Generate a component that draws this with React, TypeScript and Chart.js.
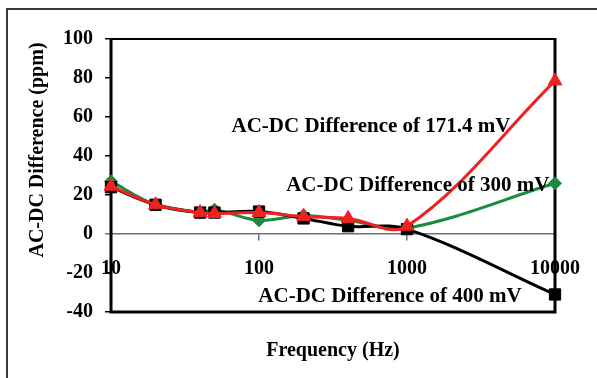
import React, { useEffect, useRef } from "react";
import { Chart, registerables } from "chart.js";

Chart.register(...registerables);

// ---- data ----
const frequencies = [10, 20, 40, 50, 100, 200, 400, 1000, 10000];
const diff171mV = [24.5, 15, 11, 10.5, 11, 9, 8, 4, 78.5];
const diff400mV = [24, 15, 11, 11, 11.5, 8, 4, 2.5, -31];
const diff300mV = [27, 15, 11, 12.5, 7, 9.5, 7, 3, 26];
const xTickValues = [10, 100, 1000, 10000];
const seriesNames = [
  "AC-DC Difference of 171.4 mV",
  "AC-DC Difference of 400 mV",
  "AC-DC Difference of 300 mV",
];
// label anchors in data coordinates (frequency, ppm) - text left/baseline
const labelFreqs = [65.2, 99.0, 152.7];
const labelValues = [52.3, -34.9, 22.0];
const xTitle = "Frequency (Hz)";
const yTitle = "AC-DC Difference (ppm)";

const FONT = "'Liberation Serif', 'Times New Roman', serif";
const RED = "#ee2222";
const GREEN = "#1b8a3c";
const BLACK = "#000000";

const toPoints = (ys: number[]) => frequencies.map((f, i) => ({ x: f, y: ys[i] }));

const decorPlugin = {
  id: "decor",
  beforeDraw(chart: any) {
    const { ctx } = chart;
    ctx.save();
    ctx.fillStyle = "#ffffff";
    ctx.fillRect(0, 0, chart.width, chart.height);
    ctx.strokeStyle = "#3a3a3a";
    ctx.lineWidth = 2;
    ctx.beginPath();
    ctx.moveTo(7, chart.height + 5);
    ctx.lineTo(7, 9);
    ctx.lineTo(chart.width + 5, 9);
    ctx.stroke();
    ctx.restore();
  },
  beforeDatasetsDraw(chart: any) {
    const { ctx, chartArea: a } = chart;
    ctx.save();
    ctx.strokeStyle = "#000";
    ctx.lineWidth = 2;
    ctx.beginPath();
    ctx.moveTo(a.left, a.top);
    ctx.lineTo(a.right, a.top);
    ctx.stroke();
    ctx.lineWidth = 3;
    ctx.beginPath();
    ctx.moveTo(a.left, a.top - 1);
    ctx.lineTo(a.left, a.bottom);
    ctx.lineTo(a.right, a.bottom);
    ctx.lineTo(a.right, a.top - 1);
    ctx.stroke();
    ctx.restore();
  },
  afterDatasetsDraw(chart: any) {
    const { ctx, chartArea: a, scales } = chart;
    ctx.save();
    ctx.fillStyle = "#000";
    ctx.font = `bold 21px ${FONT}`;
    ctx.textAlign = "left";
    ctx.textBaseline = "alphabetic";
    seriesNames.forEach((name, i) => {
      ctx.fillText(
        name,
        scales.x.getPixelForValue(labelFreqs[i]),
        scales.y.getPixelForValue(labelValues[i])
      );
    });
    ctx.font = `bold 20px ${FONT}`;
    ctx.textAlign = "center";
    ctx.fillText(xTitle, (a.left + a.right) / 2, 356);
    ctx.translate(38, 150);
    ctx.rotate(-Math.PI / 2);
    ctx.textBaseline = "middle";
    ctx.fillText(yTitle, 0, 0);
    ctx.restore();
  },
};

export default function App() {
  const ref = useRef<HTMLCanvasElement | null>(null);
  useEffect(() => {
    document.body.style.margin = "0";
    if (!ref.current) return;
    const tickFont = { family: FONT, size: 20, weight: "bold" as const };
    const common = {
      borderWidth: 3,
      pointBorderWidth: 1,
      tension: 0.35,
      clip: false as any,
    };
    const chart = new Chart(ref.current, {
      type: "line",
      data: {
        datasets: [
          {
            ...common,
            label: seriesNames[0],
            data: toPoints(diff171mV),
            borderColor: RED,
            backgroundColor: RED,
            pointBorderColor: RED,
            pointStyle: "triangle",
            pointRadius: 8,
          },
          {
            ...common,
            label: seriesNames[1],
            data: toPoints(diff400mV),
            borderColor: BLACK,
            backgroundColor: BLACK,
            pointBorderColor: BLACK,
            pointStyle: "rect",
            pointRadius: 8,
          },
          {
            ...common,
            label: seriesNames[2],
            data: toPoints(diff300mV),
            borderColor: GREEN,
            backgroundColor: GREEN,
            pointBorderColor: GREEN,
            pointStyle: "rectRot",
            pointRadius: 6.5,
          },
        ],
      },
      options: {
        animation: false,
        responsive: false,
        events: [],
        layout: { padding: { left: 0, top: 39, right: 40, bottom: 66 } },
        plugins: {
          legend: { display: false },
          tooltip: { enabled: false },
        },
        scales: {
          x: {
            type: "logarithmic",
            min: 10,
            max: 10000,
            position: { y: 0 } as any,
            afterBuildTicks: (s: any) => {
              s.ticks = xTickValues.map((v) => ({ value: v, major: true }));
            },
            ticks: {
              autoSkip: false,
              maxRotation: 0,
              padding: 17,
              color: "#000",
              font: tickFont,
              callback: (v: any) => String(v),
            },
            grid: {
              drawOnChartArea: false,
              drawTicks: true,
              tickLength: 6,
              color: "#707070",
              lineWidth: 1.5,
            },
            border: { display: true, color: "#707070", width: 1.5 },
          },
          y: {
            min: -40,
            max: 100,
            afterFit: (s: any) => {
              s.width = 111;
            },
            ticks: {
              stepSize: 20,
              padding: 12,
              color: "#000",
              font: tickFont,
            },
            grid: {
              drawOnChartArea: false,
              drawTicks: true,
              tickLength: 6,
              lineWidth: 1.5,
              color: (c: any) => (c.tick && c.tick.value === 0 ? "#707070" : "#000"),
            },
            border: { display: false },
          },
        },
      },
      plugins: [decorPlugin],
    });
    return () => chart.destroy();
  }, []);
  return (
    <div style={{ width: 597, height: 378 }}>
      <canvas ref={ref} width={597} height={378} />
    </div>
  );
}
